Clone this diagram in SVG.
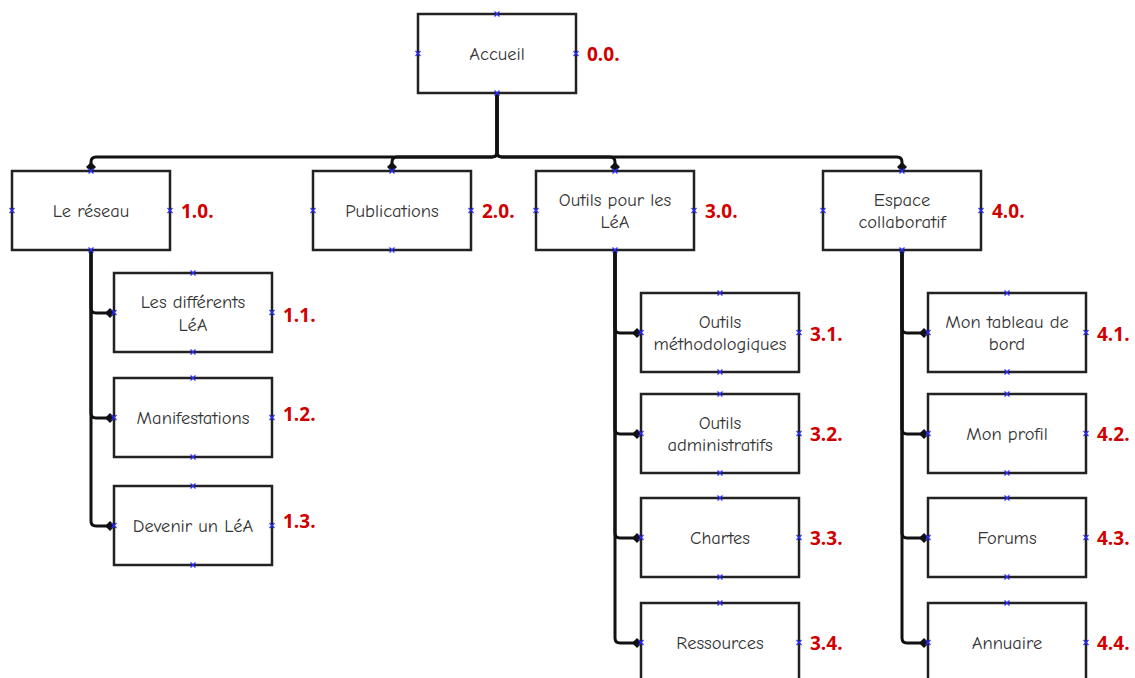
<svg xmlns="http://www.w3.org/2000/svg" xmlns:xlink="http://www.w3.org/1999/xlink" width="1135" height="678" viewBox="0 0 1135 678">
<style>
.box{fill:#fff;stroke:#222;stroke-width:2.5}
.lbl{font-family:"Comic Neue","Open Sans","DejaVu Sans",sans-serif;font-size:18.5px;fill:#333;text-anchor:middle}
.num{font-family:"Open Sans","DejaVu Sans",sans-serif;font-size:19px;font-weight:bold;fill:#d00000}
.con{fill:none;stroke:#111;stroke-width:3;marker-end:url(#dot)}
.xm{stroke:#2a2aff;stroke-width:1.2;fill:none}
</style>
<defs>
<marker id="dot" markerUnits="userSpaceOnUse" markerWidth="12" markerHeight="12" refX="10" refY="6" orient="auto">
<path d="M1,6 L6,1 L11,6 L6,11 Z" fill="#111"/>
</marker>
<path id="x" class="xm" d="M-2.5,-2.5 L2.5,2.5 M-2.5,2.5 L2.5,-2.5"/>
</defs>
<rect width="1135" height="678" fill="#fff"/>
<g id="connectors">
<path class="con" d="M497,93 V152 Q497,157 492,157 H96 Q91,157 91,162 V171"/>
<path class="con" d="M497,93 V152 Q497,157 492,157 H397 Q392,157 392,162 V171"/>
<path class="con" d="M497,93 V152 Q497,157 502,157 H610 Q615,157 615,162 V171"/>
<path class="con" d="M497,93 V152 Q497,157 502,157 H897 Q902,157 902,162 V171"/>
<path class="con" d="M91,250 V308 Q91,313 96,313 H114"/>
<path class="con" d="M91,250 V413 Q91,418 96,418 H114"/>
<path class="con" d="M91,250 V521 Q91,526 96,526 H114"/>
<path class="con" d="M615,250 V328 Q615,333 620,333 H641"/>
<path class="con" d="M615,250 V429 Q615,434 620,434 H641"/>
<path class="con" d="M615,250 V533 Q615,538 620,538 H641"/>
<path class="con" d="M615,250 V638 Q615,643 620,643 H641"/>
<path class="con" d="M902,250 V328 Q902,333 907,333 H928"/>
<path class="con" d="M902,250 V429 Q902,434 907,434 H928"/>
<path class="con" d="M902,250 V533 Q902,538 907,538 H928"/>
<path class="con" d="M902,250 V638 Q902,643 907,643 H928"/>
</g>
<g id="n00"><rect class="box" x="418" y="14" width="158" height="79"/><text class="lbl" x="497" y="60">Accueil</text><text class="num" x="587" y="61">0.0.</text>
<use href="#x" x="497" y="14"/><use href="#x" x="497" y="93"/><use href="#x" x="418" y="53.5"/><use href="#x" x="576" y="53.5"/></g>
<g id="n10"><rect class="box" x="12" y="171" width="158" height="79"/><text class="lbl" x="91" y="217">Le réseau</text><text class="num" x="181" y="218">1.0.</text>
<use href="#x" x="91" y="171"/><use href="#x" x="91" y="250"/><use href="#x" x="12" y="210.5"/><use href="#x" x="170" y="210.5"/></g>
<g id="n20"><rect class="box" x="313" y="171" width="158" height="79"/><text class="lbl" x="392" y="217">Publications</text><text class="num" x="482" y="218">2.0.</text>
<use href="#x" x="392" y="171"/><use href="#x" x="392" y="250"/><use href="#x" x="313" y="210.5"/><use href="#x" x="471" y="210.5"/></g>
<g id="n30"><rect class="box" x="536" y="171" width="158" height="79"/><text class="lbl" x="615" y="206">Outils pour les</text><text class="lbl" x="615" y="228">LéA</text><text class="num" x="705" y="218">3.0.</text>
<use href="#x" x="615" y="171"/><use href="#x" x="615" y="250"/><use href="#x" x="536" y="210.5"/><use href="#x" x="694" y="210.5"/></g>
<g id="n40"><rect class="box" x="823" y="171" width="158" height="79"/><text class="lbl" x="902" y="206">Espace</text><text class="lbl" x="902" y="228">collaboratif</text><text class="num" x="992" y="218">4.0.</text>
<use href="#x" x="902" y="171"/><use href="#x" x="902" y="250"/><use href="#x" x="823" y="210.5"/><use href="#x" x="981" y="210.5"/></g>
<g id="n11"><rect class="box" x="114" y="273" width="158" height="79"/><text class="lbl" x="193" y="308">Les différents</text><text class="lbl" x="193" y="331">LéA</text><text class="num" x="283" y="322">1.1.</text>
<use href="#x" x="193" y="273"/><use href="#x" x="193" y="352"/><use href="#x" x="114" y="312.5"/><use href="#x" x="272" y="312.5"/></g>
<g id="n12"><rect class="box" x="114" y="378" width="158" height="79"/><text class="lbl" x="193" y="424">Manifestations</text><text class="num" x="283" y="421">1.2.</text>
<use href="#x" x="193" y="378"/><use href="#x" x="193" y="457"/><use href="#x" x="114" y="417.5"/><use href="#x" x="272" y="417.5"/></g>
<g id="n13"><rect class="box" x="114" y="486" width="158" height="79"/><text class="lbl" x="193" y="532">Devenir un LéA</text><text class="num" x="283" y="528">1.3.</text>
<use href="#x" x="193" y="486"/><use href="#x" x="193" y="565"/><use href="#x" x="114" y="525.5"/><use href="#x" x="272" y="525.5"/></g>
<g id="n31"><rect class="box" x="641" y="293" width="158" height="79"/><text class="lbl" x="720" y="328">Outils</text><text class="lbl" x="720" y="350">méthodologiques</text><text class="num" x="810" y="341">3.1.</text>
<use href="#x" x="720" y="293"/><use href="#x" x="720" y="372"/><use href="#x" x="641" y="332.5"/><use href="#x" x="799" y="332.5"/></g>
<g id="n32"><rect class="box" x="641" y="394" width="158" height="79"/><text class="lbl" x="720" y="429">Outils</text><text class="lbl" x="720" y="451">administratifs</text><text class="num" x="810" y="441">3.2.</text>
<use href="#x" x="720" y="394"/><use href="#x" x="720" y="473"/><use href="#x" x="641" y="433.5"/><use href="#x" x="799" y="433.5"/></g>
<g id="n33"><rect class="box" x="641" y="498" width="158" height="79"/><text class="lbl" x="720" y="544">Chartes</text><text class="num" x="810" y="545">3.3.</text>
<use href="#x" x="720" y="498"/><use href="#x" x="720" y="577"/><use href="#x" x="641" y="537.5"/><use href="#x" x="799" y="537.5"/></g>
<g id="n34"><rect class="box" x="641" y="603" width="158" height="79"/><text class="lbl" x="720" y="649">Ressources</text><text class="num" x="810" y="650">3.4.</text>
<use href="#x" x="720" y="603"/><use href="#x" x="641" y="642.5"/><use href="#x" x="799" y="642.5"/></g>
<g id="n41"><rect class="box" x="928" y="293" width="158" height="79"/><text class="lbl" x="1007" y="328">Mon tableau de</text><text class="lbl" x="1007" y="350">bord</text><text class="num" x="1097" y="341">4.1.</text>
<use href="#x" x="1007" y="293"/><use href="#x" x="1007" y="372"/><use href="#x" x="928" y="332.5"/><use href="#x" x="1086" y="332.5"/></g>
<g id="n42"><rect class="box" x="928" y="394" width="158" height="79"/><text class="lbl" x="1007" y="440">Mon profil</text><text class="num" x="1097" y="441">4.2.</text>
<use href="#x" x="1007" y="394"/><use href="#x" x="1007" y="473"/><use href="#x" x="928" y="433.5"/><use href="#x" x="1086" y="433.5"/></g>
<g id="n43"><rect class="box" x="928" y="498" width="158" height="79"/><text class="lbl" x="1007" y="544">Forums</text><text class="num" x="1097" y="545">4.3.</text>
<use href="#x" x="1007" y="498"/><use href="#x" x="1007" y="577"/><use href="#x" x="928" y="537.5"/><use href="#x" x="1086" y="537.5"/></g>
<g id="n44"><rect class="box" x="928" y="603" width="158" height="79"/><text class="lbl" x="1007" y="649">Annuaire</text><text class="num" x="1097" y="650">4.4.</text>
<use href="#x" x="1007" y="603"/><use href="#x" x="928" y="642.5"/><use href="#x" x="1086" y="642.5"/></g>
</svg>
